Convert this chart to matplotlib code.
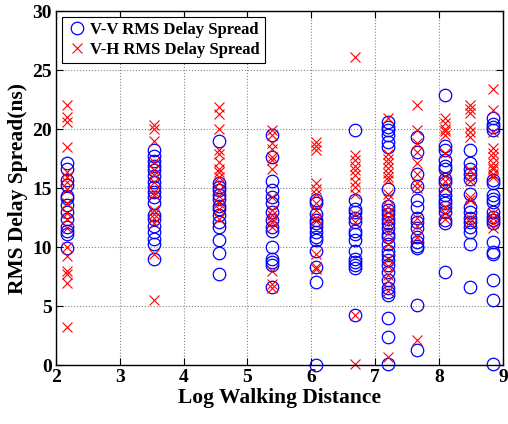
import numpy as np
import matplotlib.pyplot as plt

# log walking distance of each measurement spot
positions = [2.17, 3.53, 4.55, 5.38, 6.08, 6.68, 7.20, 7.65, 8.10, 8.48, 8.84]

# V-V RMS delay spread (ns), one list per spot
vv = [
    [17.1, 16.6, 15.7, 15.3, 14.3, 14.15, 13.6, 13.0, 12.4, 11.7, 11.4, 11.1, 9.9],
    [18.2, 17.7, 17.3, 16.9, 16.5, 16.0, 15.5, 15.1, 14.7, 14.2, 13.7, 12.7, 12.4,
     11.8, 11.3, 10.7, 10.3, 9.0],
    [19.0, 15.4, 15.1, 14.8, 14.4, 14.1, 13.5, 13.25, 12.7, 12.1, 11.7, 10.6, 9.5, 7.7],
    [19.5, 17.6, 15.6, 14.8, 14.2, 13.7, 13.0, 12.3, 11.7, 11.4, 10.0, 9.0, 8.7,
     8.45, 6.6],
    [14.0, 13.7, 12.8, 12.3, 12.0, 11.7, 11.3, 10.85, 10.6, 9.7, 8.3, 7.0, 0.0],
    [19.9, 14.0, 13.25, 13.0, 12.5, 12.1, 11.4, 11.1, 10.6, 9.7, 9.0, 8.7, 8.45,
     8.2, 4.2],
    [20.6, 20.2, 19.9, 19.5, 18.9, 18.5, 14.95, 13.5, 13.1, 12.8, 12.4, 12.0, 11.6,
     11.1, 10.85, 10.3, 9.7, 9.3, 8.9, 8.45, 7.9, 7.2, 6.5, 6.2, 5.9, 4.0, 2.4, 0.1],
    [19.3, 18.05, 16.2, 15.2, 14.0, 13.4, 12.5, 12.1, 11.6, 10.85, 10.4, 10.1, 9.9,
     5.1, 1.25],
    [22.9, 18.6, 18.2, 17.35, 16.9, 16.6, 15.8, 15.5, 14.8, 14.4, 14.0, 13.7, 13.4,
     12.95, 12.3, 12.0, 7.9],
    [18.2, 17.1, 16.6, 16.2, 15.8, 14.5, 13.4, 12.95, 12.5, 12.1, 11.7, 11.3, 10.3, 6.6],
    [20.9, 20.45, 20.2, 19.9, 15.65, 15.4, 14.4, 14.1, 13.8, 12.95, 12.55, 12.3,
     12.0, 10.4, 9.6, 9.4, 7.25, 5.5, 0.1],
]

# V-H RMS delay spread (ns), one list per spot
vh = [
    [22.0, 21.0, 20.6, 18.5, 16.4, 15.9, 15.5, 14.9, 13.7, 12.9, 12.4, 11.6, 10.0,
     9.2, 8.0, 7.75, 6.95, 3.2],
    [20.3, 20.0, 19.0, 17.2, 16.5, 16.1, 15.5, 14.7, 14.4, 13.1, 12.8, 12.5, 12.0,
     9.4, 5.5],
    [21.9, 21.3, 20.0, 18.2, 17.9, 17.2, 16.6, 16.4, 15.9, 15.4, 14.8, 14.3, 13.7,
     13.25, 12.4],
    [19.9, 19.5, 18.8, 18.3, 17.6, 17.35, 16.6, 14.2, 13.1, 12.7, 12.4, 12.1, 11.7,
     8.0, 6.9, 6.5],
    [18.9, 18.6, 18.2, 15.4, 14.95, 14.5, 13.7, 13.1, 12.5, 12.2, 9.4, 8.3, 8.1],
    [26.1, 17.8, 17.35, 16.9, 16.5, 16.1, 15.5, 15.1, 14.5, 12.8, 12.1, 4.2, 0.05],
    [20.9, 17.9, 17.5, 17.1, 16.7, 16.3, 15.9, 15.65, 14.5, 14.1, 13.4, 13.0, 12.5,
     12.0, 11.2, 10.3, 9.0, 8.4, 7.6, 7.1, 6.3, 0.7],
    [22.0, 19.9, 18.8, 18.05, 17.1, 16.2, 15.4, 15.0, 12.5, 11.8, 10.85, 2.1],
    [20.9, 20.5, 20.0, 19.8, 19.5, 18.0, 16.0, 15.6, 15.0, 13.4, 12.9, 12.4],
    [22.0, 21.7, 21.4, 20.2, 19.75, 19.3, 16.5, 15.9, 15.6, 14.2, 14.0, 12.5, 12.1],
    [23.4, 21.6, 19.75, 18.4, 18.0, 17.6, 17.1, 16.8, 16.6, 16.2, 15.9, 12.9, 12.5,
     12.0, 11.6],
]

plt.rcParams['font.family'] = ['Liberation Serif', 'DejaVu Serif']
plt.rcParams['font.weight'] = 'bold'

fig = plt.figure(figsize=(5.08, 4.24), dpi=100)
ax = fig.add_axes([0.110, 0.139, 0.880, 0.835])

vv_x = np.concatenate([[p] * len(v) for p, v in zip(positions, vv)])
vh_x = np.concatenate([[p] * len(v) for p, v in zip(positions, vh)])

ax.plot(vv_x, np.concatenate(vv), 'o', mfc='none', mec='blue', ms=9, mew=0.9,
        label='V-V RMS Delay Spread', clip_on=False)
ax.plot(vh_x, np.concatenate(vh), 'x', color='red', ms=6.5, mew=0.8,
        label='V-H RMS Delay Spread', clip_on=False)

ax.set_xlim(2, 9)
ax.set_ylim(0, 30)
ax.set_xticks(range(2, 10))
ax.set_yticks(range(0, 31, 5))
ax.grid(True, linestyle=':', color='#888888', linewidth=0.8)
ax.tick_params(direction='in', top=True, right=True, labelsize=14, length=5, pad=3)
for lab in ax.get_xticklabels() + ax.get_yticklabels():
    lab.set_fontweight('bold')
for s in ax.spines.values():
    s.set_linewidth(1.0)

ax.set_xlabel('Log Walking Distance', fontsize=15.5, fontweight='bold', labelpad=1)
ax.set_ylabel('RMS Delay Spread(ns)', fontsize=15.5, fontweight='bold', labelpad=3)

leg = ax.legend(loc='upper left', prop={'weight': 'bold', 'size': 12},
                fancybox=False, framealpha=1, edgecolor='black',
                borderaxespad=0.35, handletextpad=0.2, handlelength=1.2,
                borderpad=0.3, labelspacing=0.25)
leg.get_frame().set_linewidth(0.8)

fig.savefig('out.png', dpi=100)
